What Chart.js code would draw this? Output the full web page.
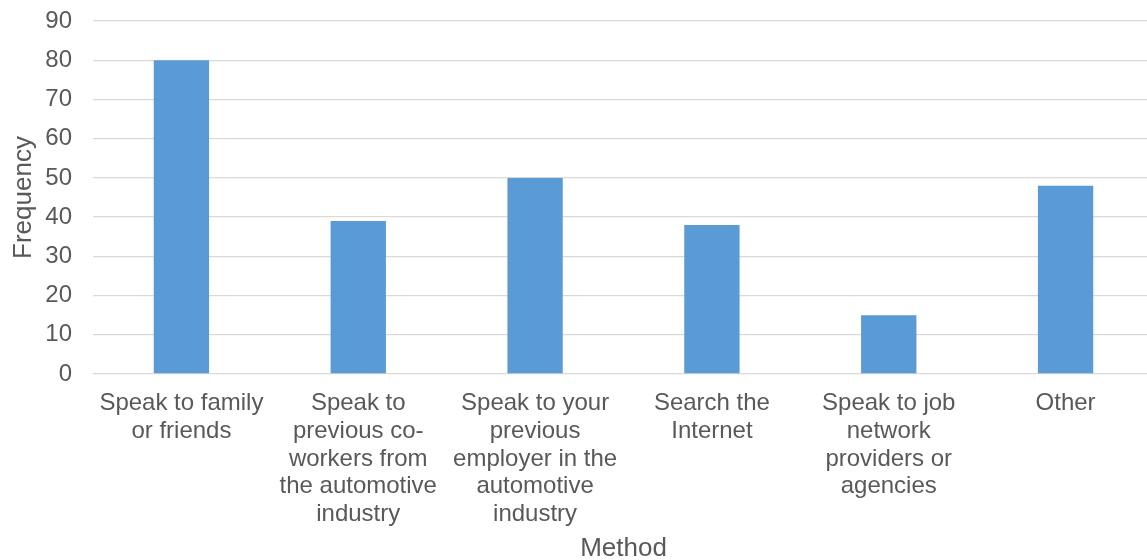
<!DOCTYPE html>
<html>
<head>
<meta charset="utf-8">
<script src="https://cdn.jsdelivr.net/npm/chart.js@4"></script>
<style>
  html, body { margin: 0; padding: 0; background: #fff; overflow: hidden; }
  #wrap { width: 1154px; height: 560px; }
</style>
</head>
<body>
<div id="wrap"><canvas id="methodChart"></canvas></div>
<script>
const methods = [
    ['Speak to family', 'or friends'],
    ['Speak to', 'previous co-', 'workers from', 'the automotive', 'industry'],
    ['Speak to your', 'previous', 'employer in the', 'automotive', 'industry'],
    ['Search the', 'Internet'],
    ['Speak to job', 'network', 'providers or', 'agencies'],
    ['Other']
];
const frequency = [80, 39, 50, 38, 15, 48];
const yTicks = [0, 10, 20, 30, 40, 50, 60, 70, 80, 90];

const textColor = '#595959';
const fontFamily = '"Liberation Sans", Arial, sans-serif';

const ctx = document.getElementById('methodChart').getContext('2d');
new Chart(ctx, {
    type: 'bar',
    data: {
        labels: methods,
        datasets: [{
            label: 'Frequency',
            data: frequency,
            backgroundColor: '#5B9BD5',
            borderWidth: 0,
            categoryPercentage: 1,
            barPercentage: 0.313
        }]
    },
    options: {
        responsive: true,
        maintainAspectRatio: false,
        animation: false,
        layout: { padding: { top: 21, left: 0, right: 0, bottom: 0 } },
        plugins: { legend: { display: false }, tooltip: { enabled: false } },
        scales: {
            x: {
                grid: { display: false, drawTicks: false },
                border: { display: false },
                ticks: {
                    color: textColor,
                    font: { family: fontFamily, size: 24, lineHeight: 1.15 },
                    padding: 16,
                    maxRotation: 0,
                    autoSkip: false
                },
                title: {
                    display: true,
                    text: 'Method',
                    color: textColor,
                    font: { family: fontFamily, size: 26 },
                    padding: { top: 0, bottom: -4 }
                },
                // fixed band below the plot so the labels don't push the area around
                afterFit: scale => {
                    scale.height = 186;
                    scale.paddingLeft = 0;
                    scale.paddingRight = 0;
                }
            },
            y: {
                min: 0,
                max: 90,
                afterBuildTicks: axis => { axis.ticks = yTicks.map(v => ({ value: v })); },
                grid: { color: '#d9d9d9', lineWidth: 1.3, drawTicks: false },
                border: { display: false },
                ticks: {
                    color: textColor,
                    font: { family: fontFamily, size: 24 },
                    padding: 21
                },
                title: {
                    display: true,
                    text: 'Frequency',
                    color: textColor,
                    font: { family: fontFamily, size: 26 },
                    padding: { top: 8, bottom: 0 }
                },
                afterFit: scale => {
                    scale.width = 93;
                    scale.paddingTop = 0;
                    scale.paddingBottom = 0;
                }
            }
        }
    }
});
</script>
</body>
</html>
